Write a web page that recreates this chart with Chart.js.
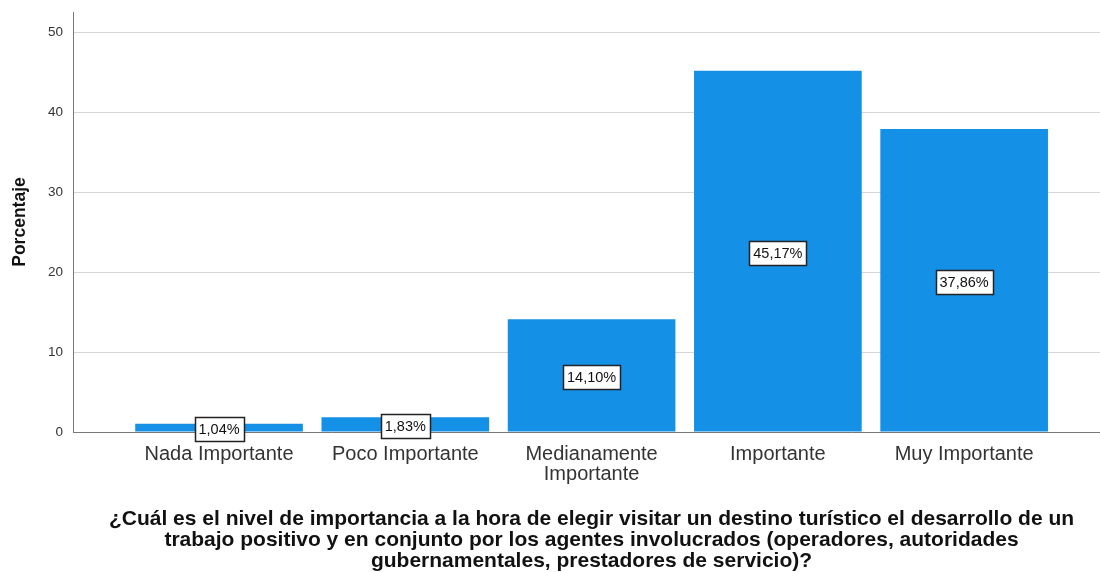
<!DOCTYPE html>
<html>
<head>
<meta charset="utf-8">
<script src="https://cdn.jsdelivr.net/npm/chart.js@4/dist/chart.umd.min.js"></script>
<style>
  html, body { margin: 0; padding: 0; background: #fff; overflow: hidden; }
  #wrap { width: 1110px; height: 572px; position: relative; }
</style>
</head>
<body>
<div id="wrap"><canvas id="chart"></canvas></div>
<script>
const categories = ['Nada Importante', 'Poco Importante', ['Medianamente', 'Importante'], 'Importante', 'Muy Importante'];
const percentages = [1.04, 1.83, 14.10, 45.17, 37.86];
const yTicks = [0, 10, 20, 30, 40, 50];
const xTitle = [
    '¿Cuál es el nivel de importancia a la hora de elegir visitar un destino turístico el desarrollo de un',
    'trabajo positivo y en conjunto por los agentes involucrados (operadores, autoridades',
    'gubernamentales, prestadores de servicio)?'
];

const FONT = "'Liberation Sans', Arial, sans-serif";

// boxed value labels in the middle of each bar
const boxLabels = {
    id: 'boxLabels',
    afterDatasetsDraw(chart) {
        const ctx = chart.ctx;
        const meta = chart.getDatasetMeta(0);
        const y = chart.scales.y;
        ctx.save();
        ctx.font = '14.5px ' + FONT;
        ctx.textAlign = 'center';
        ctx.textBaseline = 'middle';
        meta.data.forEach((bar, i) => {
            const v = percentages[i];
            const txt = v.toFixed(2).replace('.', ',') + '%';
            const cy = y.getPixelForValue(v / 2) + 1.5;
            const w = Math.round(ctx.measureText(txt).width + 8);
            const h = 24;
            const bx = Math.round(bar.x - w / 2) + 0.5;
            const by = Math.round(cy - h / 2) + 0.5;
            ctx.fillStyle = '#fff';
            ctx.fillRect(bx, by, w, h);
            ctx.strokeStyle = '#222';
            ctx.lineWidth = 1.5;
            ctx.strokeRect(bx, by, w, h);
            ctx.fillStyle = '#111';
            ctx.fillText(txt, bar.x, cy + 1);
        });
        ctx.restore();
    }
};

new Chart(document.getElementById('chart'), {
    type: 'bar',
    data: {
        datasets: [{
            data: percentages.map((v, i) => ({ x: i, y: v })),
            backgroundColor: '#1490e6',
            borderWidth: 0,
            barPercentage: 0.9,
            categoryPercentage: 1
        }]
    },
    options: {
        responsive: true,
        maintainAspectRatio: false,
        animation: false,
        layout: { padding: 0 },
        plugins: { legend: { display: false }, tooltip: { enabled: false } },
        scales: {
            x: {
                type: 'linear',
                offset: false,
                min: -0.784,
                max: 4.783,
                afterBuildTicks: (scale) => {
                    scale.ticks = categories.map((c, i) => ({ value: i }));
                },
                afterFit: (scale) => {
                    scale.height = 140;
                    scale.paddingLeft = 0;
                    scale.paddingRight = 0;
                },
                grid: { display: false, drawTicks: false },
                border: { display: true, color: '#777', width: 1 },
                ticks: {
                    autoSkip: false,
                    maxRotation: 0,
                    padding: 12,
                    color: '#333',
                    font: { family: FONT, size: 20, lineHeight: 1.0 },
                    callback: (value) => categories[value]
                },
                title: {
                    display: true,
                    text: xTitle,
                    color: '#111',
                    padding: { top: 0, bottom: 0 },
                    font: { family: FONT, size: 21, weight: 'bold', lineHeight: 1.0 }
                }
            },
            y: {
                min: 0,
                max: 52.5,
                afterBuildTicks: (scale) => {
                    scale.ticks = yTicks.map(v => ({ value: v }));
                },
                afterFit: (scale) => {
                    scale.width = 73;
                    scale.paddingTop = 12;
                    scale.paddingBottom = 0;
                },
                grid: { color: '#d6d6d6', lineWidth: 1, drawTicks: false },
                border: { display: true, color: '#777', width: 1 },
                ticks: {
                    padding: 10,
                    color: '#333',
                    font: { family: FONT, size: 13.5 }
                },
                title: {
                    display: true,
                    text: 'Porcentaje',
                    color: '#111',
                    padding: { top: 10, bottom: 0 },
                    font: { family: FONT, size: 17.5, weight: 'bold' }
                }
            }
        }
    },
    plugins: [boxLabels]
});
</script>
</body>
</html>
